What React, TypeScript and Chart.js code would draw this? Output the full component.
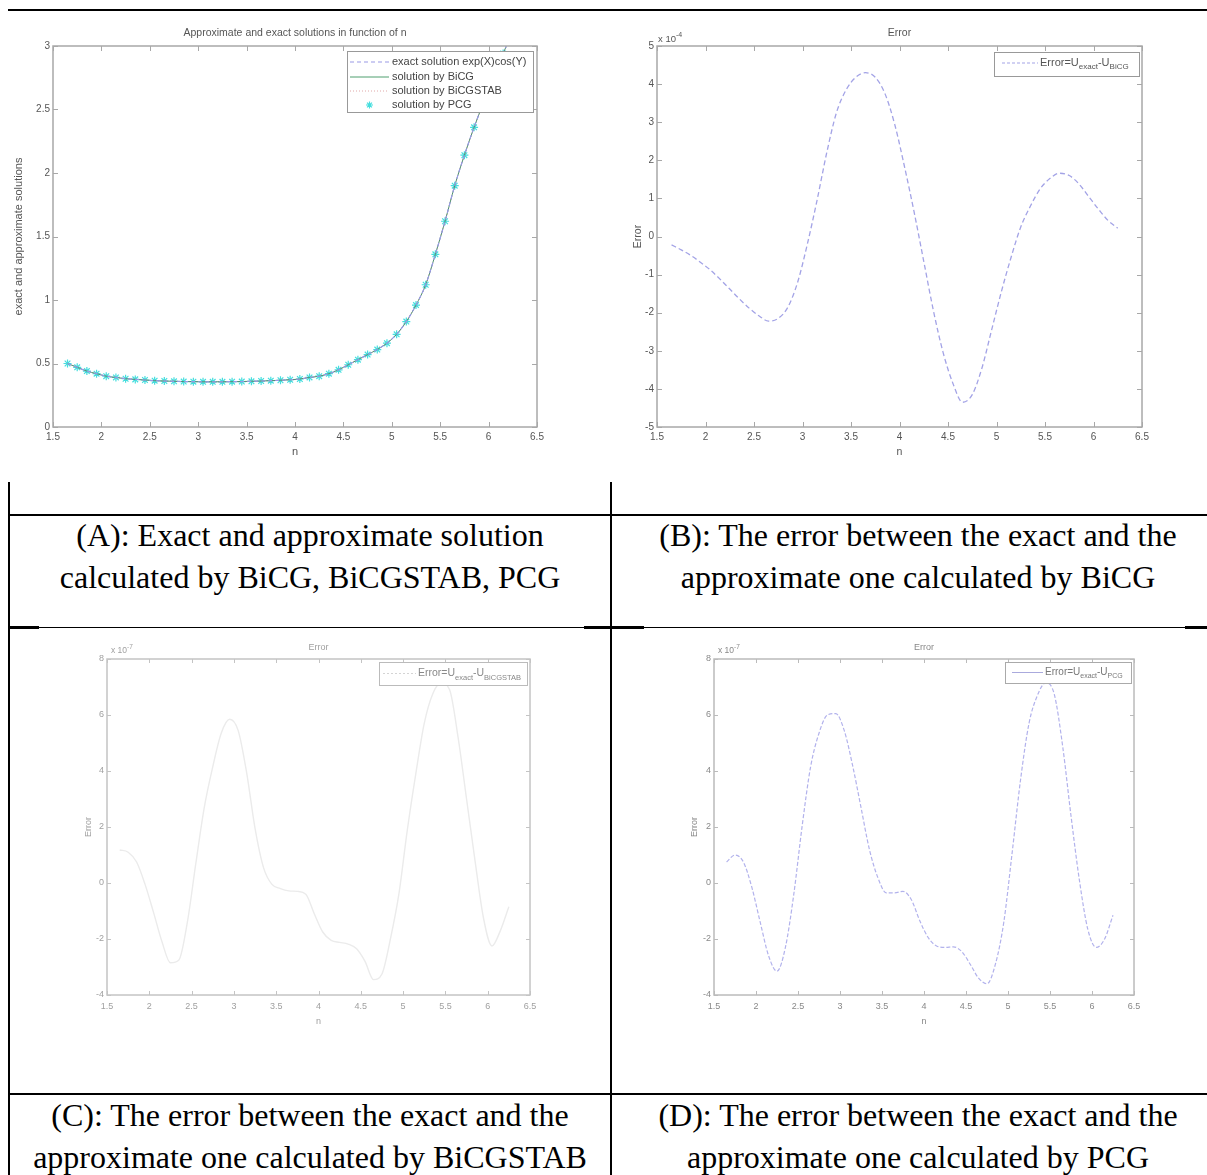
import React, { useEffect, useRef } from 'react';
import { Chart, registerables } from 'chart.js';

Chart.register(...registerables);

// ---------------- data ----------------
const nValues = [
  1.65, 1.75, 1.85, 1.95, 2.05, 2.15, 2.25, 2.35, 2.45, 2.55,
  2.65, 2.75, 2.85, 2.95, 3.05, 3.15, 3.25, 3.35, 3.45, 3.55,
  3.65, 3.75, 3.85, 3.95, 4.05, 4.15, 4.25, 4.35, 4.45, 4.55,
  4.65, 4.75, 4.85, 4.95, 5.05, 5.15, 5.25, 5.35, 5.45, 5.55,
  5.65, 5.75, 5.85, 5.95, 6.05, 6.15, 6.25,
];

const xTickValues = [1.5, 2, 2.5, 3, 3.5, 4, 4.5, 5, 5.5, 6, 6.5];
const xTickLabels = ['1.5', '2', '2.5', '3', '3.5', '4', '4.5', '5', '5.5', '6', '6.5'];

const yTickValuesA = [0, 0.5, 1, 1.5, 2, 2.5, 3];
const yTickLabelsA = ['0', '0.5', '1', '1.5', '2', '2.5', '3'];
const yTickValuesB = [-5, -4, -3, -2, -1, 0, 1, 2, 3, 4, 5];
const yTickLabelsB = ['-5', '-4', '-3', '-2', '-1', '0', '1', '2', '3', '4', '5'];
const yTickValuesCD = [-4, -2, 0, 2, 4, 6, 8];
const yTickLabelsCD = ['-4', '-2', '0', '2', '4', '6', '8'];

const exactSolution = [
  0.50, 0.47, 0.44, 0.42, 0.40, 0.39, 0.38, 0.375, 0.37, 0.365,
  0.362, 0.36, 0.358, 0.357, 0.356, 0.356, 0.356, 0.357, 0.358, 0.36,
  0.362, 0.365, 0.368, 0.372, 0.378, 0.39, 0.40, 0.42, 0.45, 0.49,
  0.53, 0.57, 0.61, 0.66, 0.73, 0.83, 0.96, 1.12, 1.36, 1.62,
  1.90, 2.14, 2.36, 2.56, 2.76, 2.94, 3.12,
];
const bicgSolution = [
  0.50, 0.47, 0.44, 0.42, 0.40, 0.39, 0.38, 0.375, 0.37, 0.365,
  0.362, 0.36, 0.358, 0.357, 0.356, 0.356, 0.356, 0.357, 0.358, 0.36,
  0.362, 0.365, 0.368, 0.372, 0.378, 0.39, 0.40, 0.42, 0.45, 0.49,
  0.53, 0.57, 0.61, 0.66, 0.73, 0.83, 0.96, 1.12, 1.36, 1.62,
  1.90, 2.14, 2.36, 2.56, 2.76, 2.94, 3.12,
];
const bicgstabSolution = [
  0.50, 0.47, 0.44, 0.42, 0.40, 0.39, 0.38, 0.375, 0.37, 0.365,
  0.362, 0.36, 0.358, 0.357, 0.356, 0.356, 0.356, 0.357, 0.358, 0.36,
  0.362, 0.365, 0.368, 0.372, 0.378, 0.39, 0.40, 0.42, 0.45, 0.49,
  0.53, 0.57, 0.61, 0.66, 0.73, 0.83, 0.96, 1.12, 1.36, 1.62,
  1.90, 2.14, 2.36, 2.56, 2.76, 2.94, 3.12,
];
const pcgSolution = [
  0.50, 0.47, 0.44, 0.42, 0.40, 0.39, 0.38, 0.375, 0.37, 0.365,
  0.362, 0.36, 0.358, 0.357, 0.356, 0.356, 0.356, 0.357, 0.358, 0.36,
  0.362, 0.365, 0.368, 0.372, 0.378, 0.39, 0.40, 0.42, 0.45, 0.49,
  0.53, 0.57, 0.61, 0.66, 0.73, 0.83, 0.96, 1.12, 1.36, 1.62,
  1.90, 2.14, 2.36, 2.56, 2.76, 2.94, 3.12,
];

const errorBiCG = [
  -0.22, -0.35, -0.50, -0.68, -0.88, -1.12, -1.38, -1.64, -1.88, -2.08,
  -2.22, -2.15, -1.85, -1.20, -0.20, 0.95, 2.20, 3.25, 3.85, 4.18,
  4.30, 4.18, 3.75, 2.95, 1.85, 0.65, -0.65, -1.95, -3.05, -3.85,
  -4.35, -4.15, -3.45, -2.45, -1.45, -0.55, 0.25, 0.80, 1.25, 1.52,
  1.66, 1.60, 1.38, 1.05, 0.72, 0.42, 0.22,
];
const errorBiCGSTAB = [
  1.18, 1.10, 0.75, -0.05, -1.05, -2.10, -2.85, -2.75, -1.40, 0.70,
  2.70, 4.15, 5.35, 5.85, 5.45, 3.95, 1.95, 0.55, -0.05, -0.20,
  -0.28, -0.30, -0.40, -1.10, -1.75, -2.05, -2.12, -2.18, -2.35, -2.80,
  -3.45, -3.25, -2.00, -0.40, 1.90, 3.90, 5.70, 6.75, 7.15, 6.90,
  5.20, 3.00, 0.80, -1.25, -2.25, -1.70, -0.85,
];
const errorPCG = [
  0.75, 1.00, 0.75, -0.15, -1.40, -2.60, -3.15, -2.30, -0.40, 2.05,
  4.15, 5.35, 6.00, 6.05, 5.45, 4.20, 2.70, 1.20, 0.20, -0.35,
  -0.35, -0.30, -0.60, -1.35, -1.95, -2.25, -2.30, -2.28, -2.45, -2.90,
  -3.40, -3.60, -2.90, -1.40, 1.10, 3.70, 5.70, 6.70, 7.15, 6.75,
  4.90, 2.40, 0.10, -1.65, -2.30, -2.00, -1.15,
];

// ---------------- drawing helpers ----------------
const SANS = '"Liberation Sans", Arial, Helvetica, sans-serif';
const SERIF = '"Liberation Serif", "Times New Roman", Times, serif';

type Part = { t: string; sub?: boolean; sup?: boolean };

function drawParts(ctx: CanvasRenderingContext2D, parts: Part[], x: number, y: number, size: number, small: number) {
  let cx = x;
  for (const p of parts) {
    const s = p.sub || p.sup ? small : size;
    ctx.font = `${s}px ${SANS}`;
    const dy = p.sub ? size * 0.38 : p.sup ? -size * 0.42 : 0;
    ctx.fillText(p.t, cx, y + dy);
    cx += ctx.measureText(p.t).width;
  }
}

type LegendEntry = { dy: number; kind: 'line' | 'star'; color: string; dash?: number[]; width?: number; parts: Part[] };

type FigSpec = {
  axisColor: string;
  axisWidth: number;
  tickLen: number;
  textColor: string;
  tickSize: number;
  xTicks: number[];
  xLabels: string[];
  yTicks: number[];
  yLabels: string[];
  xLabelDy: number;
  yLabelDx: number;
  title: string;
  titleDy: number;
  titleSize: number;
  xTitle: string;
  xTitleDy: number;
  yTitle: string;
  yTitleDx: number;
  labelSize: number;
  exponent?: { parts: Part[]; dx: number; dy: number; size: number; small: number };
  legend?: {
    inRight: number; inTop: number; w: number; h: number;
    border: string; textColor: string; size: number; small: number;
    x0: number; x1: number; tx: number; entries: LegendEntry[];
  };
};

function drawFigure(chart: any, s: FigSpec) {
  const ctx: CanvasRenderingContext2D = chart.ctx;
  const a = chart.chartArea;
  const xs = chart.scales.x;
  const ys = chart.scales.y;
  ctx.save();

  // axes box
  ctx.strokeStyle = s.axisColor;
  ctx.lineWidth = s.axisWidth;
  ctx.setLineDash([]);
  ctx.strokeRect(a.left, a.top, a.right - a.left, a.bottom - a.top);
  ctx.lineWidth = 1;
  ctx.beginPath();
  s.xTicks.forEach((v) => {
    const p = Math.round(xs.getPixelForValue(v)) + 0.5;
    ctx.moveTo(p, a.bottom); ctx.lineTo(p, a.bottom - s.tickLen);
    ctx.moveTo(p, a.top); ctx.lineTo(p, a.top + s.tickLen);
  });
  s.yTicks.forEach((v) => {
    const p = Math.round(ys.getPixelForValue(v)) + 0.5;
    ctx.moveTo(a.left, p); ctx.lineTo(a.left + s.tickLen, p);
    ctx.moveTo(a.right, p); ctx.lineTo(a.right - s.tickLen, p);
  });
  ctx.stroke();

  // tick labels
  ctx.fillStyle = s.textColor;
  ctx.font = `${s.tickSize}px ${SANS}`;
  ctx.textAlign = 'center';
  ctx.textBaseline = 'middle';
  s.xTicks.forEach((v, i) => ctx.fillText(s.xLabels[i], xs.getPixelForValue(v), a.bottom + s.xLabelDy));
  ctx.textAlign = 'right';
  s.yTicks.forEach((v, i) => ctx.fillText(s.yLabels[i], a.left - s.yLabelDx, ys.getPixelForValue(v)));

  // titles
  ctx.textAlign = 'center';
  ctx.font = `${s.titleSize}px ${SANS}`;
  ctx.fillText(s.title, (a.left + a.right) / 2, a.top - s.titleDy);
  ctx.font = `${s.labelSize}px ${SANS}`;
  ctx.fillText(s.xTitle, (a.left + a.right) / 2, a.bottom + s.xTitleDy);
  ctx.save();
  ctx.translate(a.left - s.yTitleDx, (a.top + a.bottom) / 2);
  ctx.rotate(-Math.PI / 2);
  ctx.fillText(s.yTitle, 0, 0);
  ctx.restore();

  if (s.exponent) {
    ctx.textAlign = 'left';
    drawParts(ctx, s.exponent.parts, a.left + s.exponent.dx, a.top - s.exponent.dy, s.exponent.size, s.exponent.small);
  }

  if (s.legend) {
    const L = s.legend;
    const bx = a.right - L.inRight - L.w;
    const by = a.top + L.inTop;
    ctx.fillStyle = '#ffffff';
    ctx.fillRect(bx, by, L.w, L.h);
    ctx.strokeStyle = L.border;
    ctx.lineWidth = 1;
    ctx.strokeRect(Math.round(bx) + 0.5, Math.round(by) + 0.5, L.w, L.h);
    L.entries.forEach((e) => {
      const y = by + e.dy;
      ctx.strokeStyle = e.color;
      ctx.lineWidth = e.width || 1;
      if (e.kind === 'line') {
        ctx.setLineDash(e.dash || []);
        ctx.beginPath();
        ctx.moveTo(bx + L.x0, y);
        ctx.lineTo(bx + L.x1, y);
        ctx.stroke();
        ctx.setLineDash([]);
      } else {
        const cx = bx + (L.x0 + L.x1) / 2;
        const r = 3.5;
        ctx.beginPath();
        ctx.moveTo(cx - r, y); ctx.lineTo(cx + r, y);
        ctx.moveTo(cx, y - r); ctx.lineTo(cx, y + r);
        ctx.moveTo(cx - r * 0.7, y - r * 0.7); ctx.lineTo(cx + r * 0.7, y + r * 0.7);
        ctx.moveTo(cx - r * 0.7, y + r * 0.7); ctx.lineTo(cx + r * 0.7, y - r * 0.7);
        ctx.stroke();
      }
      ctx.fillStyle = L.textColor;
      ctx.textAlign = 'left';
      ctx.textBaseline = 'middle';
      drawParts(ctx, e.parts, bx + L.tx, y, L.size, L.small);
    });
  }
  ctx.restore();
}

function series(values: number[], style: any) {
  return {
    data: nValues.map((x, i) => ({ x, y: values[i] })),
    fill: false,
    pointRadius: 0,
    cubicInterpolationMode: 'monotone',
    ...style,
  };
}

type Panel = {
  box: { left: number; top: number; width: number; height: number };
  padding: { left: number; top: number; right: number; bottom: number };
  yMin: number;
  yMax: number;
  datasets: any[];
  fig: FigSpec;
};

function makeConfig(p: Panel): any {
  return {
    type: 'line',
    data: { datasets: p.datasets },
    options: {
      animation: false,
      responsive: false,
      devicePixelRatio: 1,
      events: [],
      layout: { padding: p.padding },
      plugins: { legend: { display: false }, title: { display: false }, tooltip: { enabled: false } },
      scales: {
        x: { type: 'linear', display: false, min: 1.5, max: 6.5 },
        y: { type: 'linear', display: false, min: p.yMin, max: p.yMax },
      },
    },
    plugins: [{ id: 'fig', afterDatasetsDraw: (chart: any) => drawFigure(chart, p.fig) }],
  };
}

function ChartCanvas({ panel }: { panel: Panel }) {
  const ref = useRef<HTMLCanvasElement>(null);
  useEffect(() => {
    const chart = new Chart(ref.current as HTMLCanvasElement, makeConfig(panel));
    return () => chart.destroy();
  }, []);
  const b = panel.box;
  return (
    <canvas
      ref={ref}
      width={b.width}
      height={b.height}
      style={{ position: 'absolute', left: b.left, top: b.top, width: b.width, height: b.height }}
    />
  );
}

// ---------------- panels ----------------
const errParts = (method: string): Part[] => [
  { t: 'Error=U' }, { t: 'exact', sub: true }, { t: '-U' }, { t: method, sub: true },
];

const panelA: Panel = {
  box: { left: 10, top: 12, width: 598, height: 468 },
  padding: { left: 43, top: 34, right: 71, bottom: 53 },
  yMin: 0,
  yMax: 3,
  datasets: [
    series(exactSolution, { borderColor: '#9a9ae6', borderWidth: 1.2, borderDash: [4, 3] }),
    series(bicgSolution, { borderColor: '#4f8f6f', borderWidth: 1 }),
    series(bicgstabSolution, { borderColor: '#e0a8a8', borderWidth: 1, borderDash: [1, 2] }),
    series(pcgSolution, {
      showLine: false, pointRadius: 4, pointStyle: 'star', pointBorderColor: '#45dede',
      pointBackgroundColor: '#45dede', pointBorderWidth: 1.2, borderColor: '#45dede',
    }),
  ],
  fig: {
    axisColor: '#a8a8a8', axisWidth: 1.5, tickLen: 5, textColor: '#555555', tickSize: 10,
    xTicks: xTickValues, xLabels: xTickLabels, yTicks: yTickValuesA, yLabels: yTickLabelsA,
    xLabelDy: 10, yLabelDx: 3,
    title: 'Approximate and exact solutions in function of n', titleDy: 13, titleSize: 10.5,
    xTitle: 'n', xTitleDy: 25, yTitle: 'exact and approximate solutions', yTitleDx: 34, labelSize: 11,
    legend: {
      inRight: 4, inTop: 5, w: 186, h: 61, border: '#999999', textColor: '#444444', size: 11, small: 8,
      x0: 3, x1: 42, tx: 45,
      entries: [
        { dy: 11, kind: 'line', color: '#9a9ae6', dash: [4, 3], width: 1.2, parts: [{ t: 'exact solution exp(X)cos(Y)' }] },
        { dy: 26, kind: 'line', color: '#4f9f6f', parts: [{ t: 'solution by BiCG' }] },
        { dy: 40, kind: 'line', color: '#e0a8a8', dash: [1, 2], parts: [{ t: 'solution by BiCGSTAB' }] },
        { dy: 54, kind: 'star', color: '#45dede', width: 1.2, parts: [{ t: 'solution by PCG' }] },
      ],
    },
  },
};

const panelB: Panel = {
  box: { left: 612, top: 12, width: 595, height: 468 },
  padding: { left: 45, top: 34, right: 65, bottom: 53 },
  yMin: -5,
  yMax: 5,
  datasets: [series(errorBiCG, { borderColor: '#a3a3e6', borderWidth: 1.3, borderDash: [5, 3] })],
  fig: {
    axisColor: '#a8a8a8', axisWidth: 1.5, tickLen: 5, textColor: '#555555', tickSize: 10,
    xTicks: xTickValues, xLabels: xTickLabels, yTicks: yTickValuesB, yLabels: yTickLabelsB,
    xLabelDy: 10, yLabelDx: 3,
    title: 'Error', titleDy: 13, titleSize: 10.5,
    xTitle: 'n', xTitleDy: 25, yTitle: 'Error', yTitleDx: 19, labelSize: 10.5,
    exponent: { parts: [{ t: 'x 10' }, { t: '-4', sup: true }], dx: 1, dy: 7, size: 9.5, small: 7 },
    legend: {
      inRight: 3, inTop: 6, w: 145, h: 24, border: '#999999', textColor: '#555555', size: 11, small: 8,
      x0: 8, x1: 44, tx: 46,
      entries: [{ dy: 11, kind: 'line', color: '#a3a3e6', dash: [3, 2], parts: errParts('BiCG') }],
    },
  },
};

const panelC: Panel = {
  box: { left: 10, top: 630, width: 600, height: 462 },
  padding: { left: 97, top: 29, right: 80, bottom: 97 },
  yMin: -4,
  yMax: 8,
  datasets: [series(errorBiCGSTAB, { borderColor: '#ebebeb', borderWidth: 1.4 })],
  fig: {
    axisColor: '#c4c4c4', axisWidth: 1.5, tickLen: 4, textColor: '#a0a0a0', tickSize: 9,
    xTicks: xTickValues, xLabels: xTickLabels, yTicks: yTickValuesCD, yLabels: yTickLabelsCD,
    xLabelDy: 12, yLabelDx: 3,
    title: 'Error', titleDy: 11, titleSize: 9,
    xTitle: 'n', xTitleDy: 27, yTitle: 'Error', yTitleDx: 18, labelSize: 9,
    exponent: { parts: [{ t: 'x 10' }, { t: '-7', sup: true }], dx: 4, dy: 8, size: 8.5, small: 6.5 },
    legend: {
      inRight: 3, inTop: 3, w: 148, h: 23, border: '#bbbbbb', textColor: '#888888', size: 10.5, small: 7.5,
      x0: 4, x1: 37, tx: 39,
      entries: [{ dy: 11.5, kind: 'line', color: '#d4d4d4', dash: [2, 2], parts: errParts('BiCGSTAB') }],
    },
  },
};

const panelD: Panel = {
  box: { left: 612, top: 630, width: 595, height: 462 },
  padding: { left: 102, top: 29, right: 73, bottom: 97 },
  yMin: -4,
  yMax: 8,
  datasets: [series(errorPCG, { borderColor: '#b2b2ec', borderWidth: 1.2, borderDash: [4, 2] })],
  fig: {
    axisColor: '#bbbbbb', axisWidth: 1.5, tickLen: 4, textColor: '#888888', tickSize: 9,
    xTicks: xTickValues, xLabels: xTickLabels, yTicks: yTickValuesCD, yLabels: yTickLabelsCD,
    xLabelDy: 12, yLabelDx: 3,
    title: 'Error', titleDy: 11, titleSize: 9,
    xTitle: 'n', xTitleDy: 27, yTitle: 'Error', yTitleDx: 19, labelSize: 9,
    exponent: { parts: [{ t: 'x 10' }, { t: '-7', sup: true }], dx: 4, dy: 8, size: 8.5, small: 6.5 },
    legend: {
      inRight: 3, inTop: 3, w: 126, h: 21, border: '#aaaaaa', textColor: '#777777', size: 10, small: 7,
      x0: 7, x1: 38, tx: 40,
      entries: [{ dy: 10.5, kind: 'line', color: '#aaaadd', parts: errParts('PCG') }],
    },
  },
};

// ---------------- layout ----------------
const line = (left: number, top: number, width: number, height: number) => (
  <div style={{ position: 'absolute', left, top, width, height, background: '#000' }} />
);

const captionStyle = (left: number, top: number, width: number): React.CSSProperties => ({
  position: 'absolute',
  left,
  top,
  width,
  textAlign: 'center',
  fontFamily: SERIF,
  fontSize: 32,
  lineHeight: '42px',
  color: '#000',
  whiteSpace: 'nowrap',
});

export default function App() {
  return (
    <div style={{ position: 'absolute', left: 0, top: 0, width: 1207, height: 1175, overflow: 'hidden', background: '#fff' }}>
      {line(8, 9, 1199, 2)}
      {line(8, 482, 2, 693)}
      {line(610, 482, 2, 693)}
      {line(8, 514, 1199, 2)}
      {line(8, 627, 1199, 1)}
      {line(8, 626, 31, 3)}
      {line(584, 626, 60, 3)}
      {line(1185, 626, 22, 3)}
      {line(8, 1093, 1199, 2)}

      <ChartCanvas panel={panelA} />
      <ChartCanvas panel={panelB} />
      <ChartCanvas panel={panelC} />
      <ChartCanvas panel={panelD} />

      <div style={captionStyle(10, 514, 600)}>
        <div>(A): Exact and approximate solution</div>
        <div>calculated by BiCG, BiCGSTAB, PCG</div>
      </div>
      <div style={captionStyle(612, 514, 612)}>
        <div>(B): The error between the exact and the</div>
        <div>approximate one calculated by BiCG</div>
      </div>
      <div style={captionStyle(10, 1094, 600)}>
        <div>(C): The error between the exact and the</div>
        <div>approximate one calculated by BiCGSTAB</div>
      </div>
      <div style={captionStyle(612, 1094, 612)}>
        <div>(D): The error between the exact and the</div>
        <div>approximate one calculated by PCG</div>
      </div>
    </div>
  );
}
